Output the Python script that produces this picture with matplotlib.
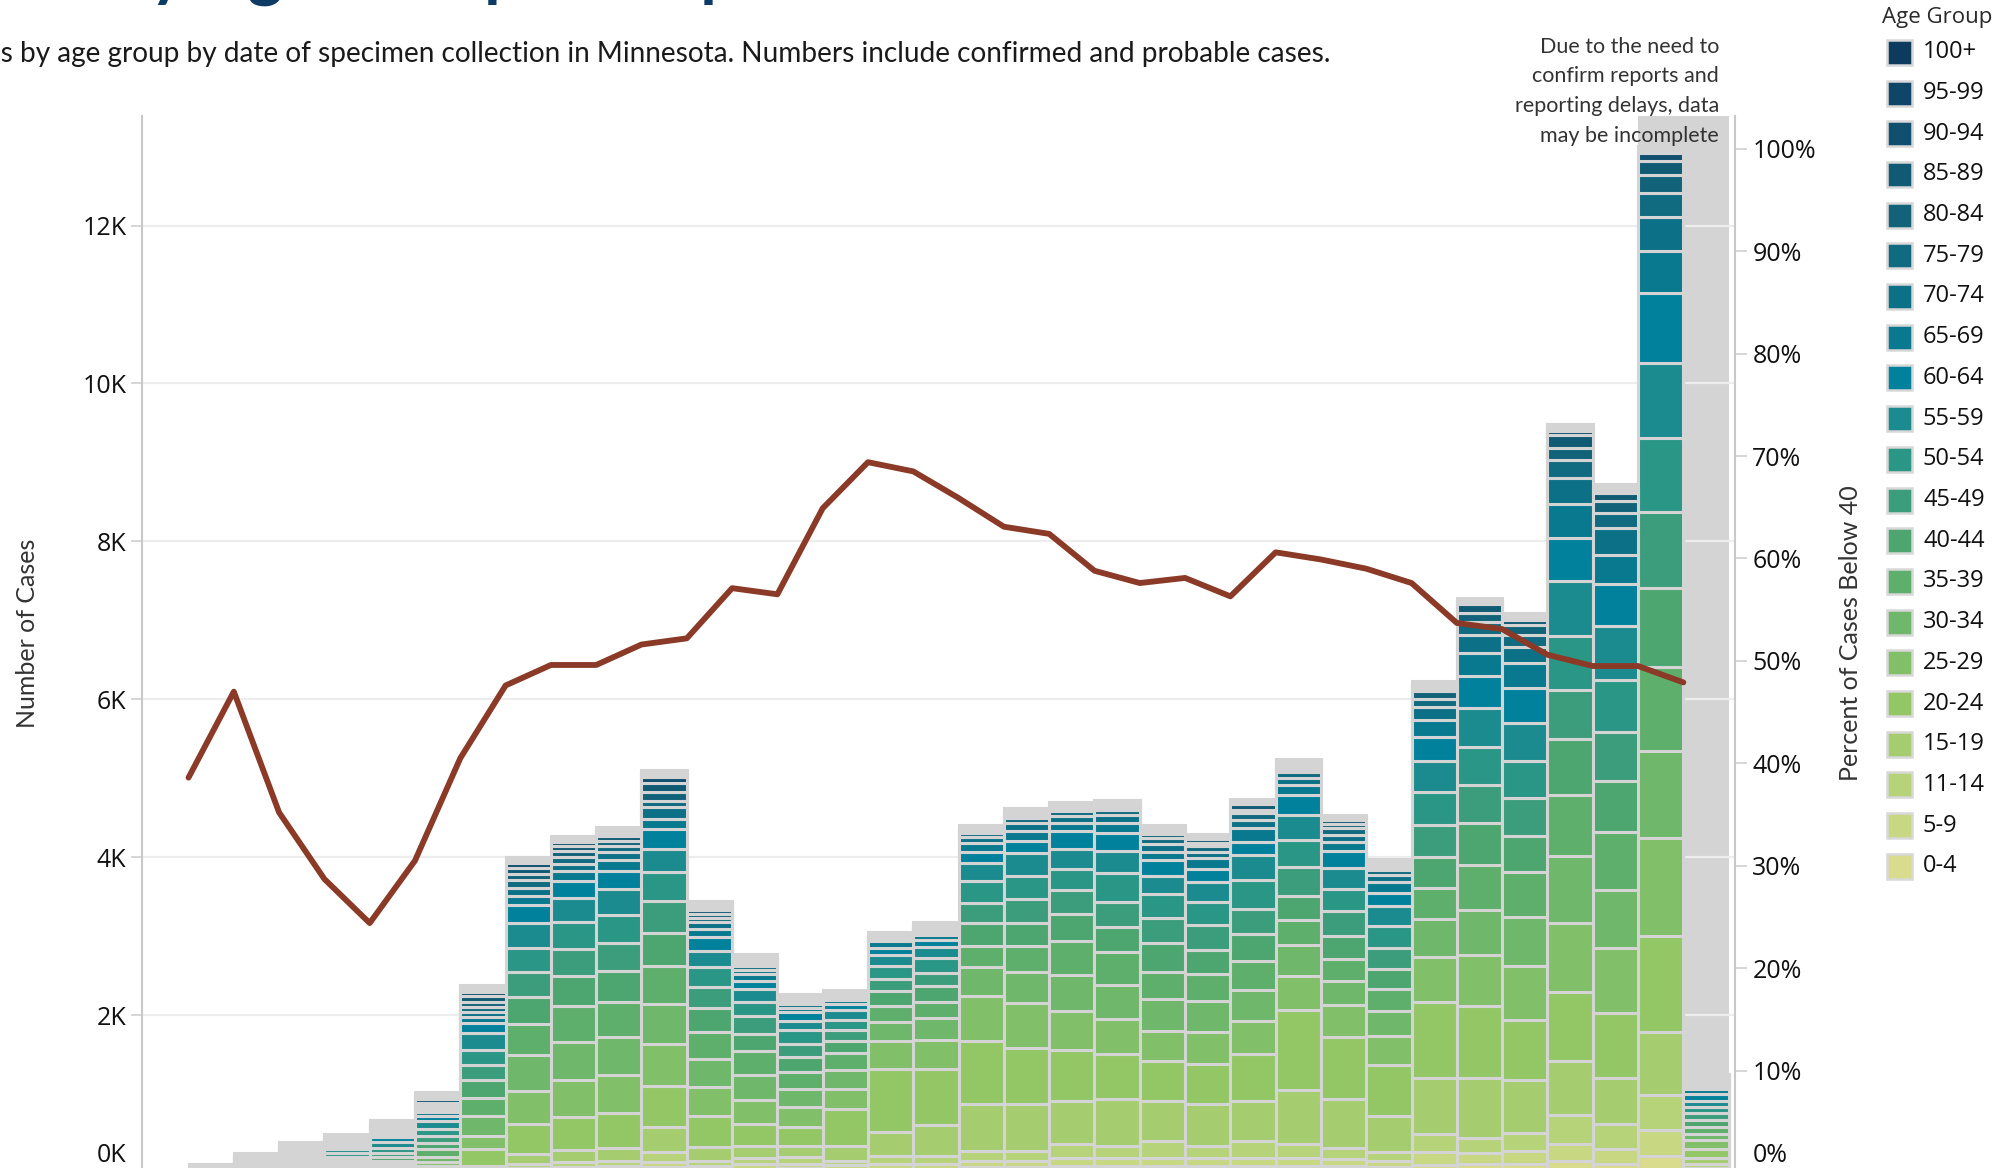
import numpy as np
import matplotlib
matplotlib.use('Agg')
import matplotlib.pyplot as plt
from matplotlib.patches import Rectangle

# weekly cases by age group (34 weeks)
age_0_4 = [0, 1, 2, 2, 3, 5, 10, 30, 35, 40, 70, 40, 50, 60, 55, 50, 50, 70, 70, 90, 90, 90, 90, 90, 90, 90, 80, 100, 110, 110, 150, 120, 220, 30]
age_5_9 = [0, 2, 2, 2, 3, 5, 12, 34, 40, 45, 75, 45, 60, 55, 45, 60, 63, 76, 76, 101, 101, 105, 105, 105, 105, 89, 68, 171, 141, 166, 218, 180, 320, 35]
age_11_14 = [1, 3, 3, 3, 4, 8, 20, 51, 60, 65, 120, 70, 80, 85, 50, 100, 105, 127, 127, 177, 148, 207, 144, 207, 177, 135, 122, 222, 196, 226, 363, 315, 452, 55]
age_15_19 = [2, 8, 8, 8, 10, 20, 45, 131, 150, 170, 320, 170, 150, 140, 190, 305, 395, 600, 600, 540, 600, 511, 536, 511, 676, 629, 452, 704, 759, 674, 682, 588, 789, 75]
age_20_24 = [6, 22, 25, 25, 30, 50, 211, 372, 420, 440, 515, 400, 275, 245, 475, 800, 710, 794, 709, 650, 562, 502, 507, 591, 1013, 785, 646, 964, 913, 768, 879, 823, 1216, 115]
age_25_29 = [5, 20, 27, 28, 32, 55, 169, 422, 470, 480, 532, 370, 305, 245, 255, 360, 365, 570, 566, 498, 452, 388, 401, 422, 431, 397, 372, 572, 644, 682, 874, 820, 1241, 105]
age_30_34 = [5, 20, 27, 30, 35, 60, 253, 452, 485, 480, 507, 350, 315, 230, 230, 235, 280, 367, 393, 456, 422, 401, 393, 393, 393, 308, 312, 478, 571, 614, 849, 733, 1102, 85]
age_35_39 = [4, 18, 27, 30, 35, 100, 224, 401, 450, 445, 485, 340, 305, 220, 215, 200, 200, 274, 338, 431, 422, 338, 342, 372, 317, 283, 279, 397, 567, 567, 768, 746, 1073, 85]
age_40_44 = [5, 18, 30, 35, 50, 80, 228, 338, 380, 390, 418, 300, 225, 190, 160, 195, 200, 287, 283, 338, 317, 372, 312, 342, 308, 287, 258, 397, 533, 456, 710, 640, 992, 85]
age_45_49 = [6, 18, 30, 40, 55, 85, 194, 312, 350, 360, 401, 270, 225, 170, 140, 150, 165, 249, 312, 308, 317, 312, 308, 308, 367, 317, 258, 397, 478, 482, 625, 627, 963, 85]
age_50_54 = [7, 18, 35, 45, 65, 95, 198, 312, 340, 350, 371, 250, 170, 170, 125, 170, 195, 287, 283, 262, 367, 312, 291, 367, 342, 279, 283, 427, 482, 478, 680, 652, 937, 80]
age_55_59 = [7, 17, 35, 50, 70, 90, 203, 312, 300, 330, 284, 210, 165, 120, 120, 140, 140, 228, 291, 253, 279, 220, 253, 317, 312, 258, 253, 392, 490, 478, 705, 679, 956, 80]
age_60_64 = [5, 14, 30, 50, 60, 75, 135, 224, 220, 230, 253, 180, 110, 105, 80, 90, 85, 135, 160, 224, 224, 203, 169, 169, 253, 220, 169, 307, 414, 448, 540, 537, 880, 85]
age_65_69 = [4, 10, 25, 35, 45, 45, 70, 114, 120, 135, 139, 100, 80, 60, 45, 80, 60, 110, 130, 100, 130, 105, 140, 170, 130, 120, 135, 210, 290, 316, 425, 366, 532, 60]
age_70_74 = [2, 6, 15, 25, 35, 40, 70, 110, 100, 110, 143, 80, 60, 45, 30, 35, 45, 80, 95, 100, 100, 100, 75, 105, 90, 90, 85, 160, 230, 196, 335, 341, 430, 45]
age_75_79 = [1, 3, 8, 15, 25, 30, 60, 93, 80, 75, 80, 55, 45, 30, 20, 15, 30, 50, 60, 60, 70, 75, 70, 85, 70, 80, 65, 110, 160, 150, 230, 196, 313, 35]
age_80_84 = [0, 1, 5, 12, 25, 45, 65, 84, 75, 60, 114, 55, 40, 20, 15, 8, 18, 30, 40, 35, 40, 50, 45, 45, 45, 50, 45, 95, 110, 127, 150, 143, 228, 25]
age_85_89 = [0, 1, 3, 8, 20, 45, 70, 76, 70, 60, 114, 50, 35, 15, 10, 5, 12, 15, 22, 15, 20, 45, 45, 70, 40, 50, 25, 45, 120, 70, 160, 109, 168, 18]
age_90_94 = [0, 0, 2, 5, 12, 25, 60, 59, 50, 40, 76, 40, 20, 8, 6, 2, 6, 8, 10, 6, 10, 15, 15, 15, 20, 12, 12, 25, 15, 25, 60, 40, 108, 10]
age_95_99 = [0, 0, 1, 2, 5, 10, 30, 20, 20, 20, 30, 20, 8, 3, 2, 1, 2, 3, 4, 2, 4, 6, 5, 5, 8, 4, 5, 10, 5, 8, 25, 15, 35, 4]
age_100 = [0, 0, 0, 0, 1, 2, 8, 5, 5, 5, 8, 5, 2, 1, 1, 0, 0, 0, 1, 0, 1, 2, 1, 1, 2, 1, 1, 3, 1, 2, 8, 4, 8, 1]

# percent of cases below 40, per week
pct_below_40 = [38.6, 47.0, 35.2, 28.7, 24.4, 30.5, 40.5, 47.6, 49.6, 49.6, 51.6, 52.2, 57.1, 56.5,
                64.9, 69.4, 68.5, 65.9, 63.1, 62.4, 58.8, 57.6, 58.1, 56.3, 60.6, 59.9, 59.0, 57.6,
                53.7, 53.1, 50.6, 49.5, 49.5, 47.9]

age_labels = ['0-4', '5-9', '11-14', '15-19', '20-24', '25-29', '30-34', '35-39', '40-44', '45-49',
              '50-54', '55-59', '60-64', '65-69', '70-74', '75-79', '80-84', '85-89', '90-94',
              '95-99', '100+']
age_colors = ['#d9dc8c', '#c8d882', '#b7d379', '#a5cd6f', '#93c766', '#81bf68', '#6fb76a', '#5daf6b',
              '#4da570', '#3b9d7b', '#2a9685', '#1b8b8f', '#02819c', '#08798f', '#0c7186', '#106b80',
              '#12637a', '#115a74', '#10506e', '#0f4667', '#0d3b5e']

series = [age_0_4, age_5_9, age_11_14, age_15_19, age_20_24, age_25_29, age_30_34, age_35_39,
          age_40_44, age_45_49, age_50_54, age_55_59, age_60_64, age_65_69, age_70_74, age_75_79,
          age_80_84, age_85_89, age_90_94, age_95_99, age_100]
data = np.array(series, dtype=float)
weeks = np.arange(data.shape[1])
totals = data.sum(axis=0)

W, H = 1997, 1168
GRAY = '#d4d4d4'
SANS = ['Open Sans', 'DejaVu Sans']
LIGHT = ['Lato', 'DejaVu Sans']


def fx(px):
    return px / W


def fy(py):
    return 1 - py / H


fig = plt.figure(figsize=(W / 100, H / 100), dpi=100)
ax = fig.add_axes([fx(142.4), -5 / H, (1735 - 142.4) / W, (1173 - 116) / H])

# shaded incomplete weeks
ax.axvspan(32, 34, color=GRAY, lw=0, zorder=0.5)
for v in range(2000, 13000, 2000):
    ax.axhline(v, color='#ededed', lw=1.6, zorder=1)

ax.bar(weeks, totals + 50, width=1, align='edge', color=GRAY, edgecolor=GRAY, linewidth=2.2, zorder=1.8)
bottom = np.zeros(len(weeks))
for vals, c in zip(data, age_colors):
    ax.bar(weeks, vals, bottom=bottom, width=1, align='edge', color=c, edgecolor=GRAY,
           linewidth=2.2, zorder=2)
    bottom += vals

ax.set_xlim(-1.018, 34.14)
ax.set_ylim(0, 13388)
ax.set_xticks([])
yt = list(range(0, 13000, 2000))
ax.set_yticks(yt)
ax.set_yticklabels([''] + ['%dK' % (v // 1000) for v in yt[1:]], family=SANS, fontsize=18, color='#111111')
ax.tick_params(axis='y', length=8, width=1.2, color='#d0d0d0', pad=3.5)
for s in ['top', 'right', 'bottom']:
    ax.spines[s].set_visible(False)
ax.spines['left'].set_color('#c8c8c8')
ax.spines['left'].set_linewidth(1.5)
ax.patch.set_alpha(0)

ax2 = ax.twinx()
ax2.plot(weeks, pct_below_40, color='#8b3a28', lw=4.2, solid_capstyle='round', zorder=5)
ax2.set_ylim(0, 103.2)
pt = list(range(0, 101, 10))
ax2.set_yticks(pt)
ax2.set_yticklabels([''] + ['%d%%' % v for v in pt[1:]], family=SANS, fontsize=18, color='#111111')
ax2.tick_params(axis='y', length=8.5, width=1.2, color='#d0d0d0', pad=4)
for s in ['top', 'left', 'bottom']:
    ax2.spines[s].set_visible(False)
ax2.spines['right'].set_color('#c8c8c8')
ax2.spines['right'].set_linewidth(1.5)

# zero labels sit just above the cropped bottom edge
fig.text(fx(126), fy(1155), '0K', ha='right', va='center', family=SANS, fontsize=18, color='#111111')
fig.text(fx(1753), fy(1156), '0%', ha='left', va='center', family=SANS, fontsize=18, color='#111111')

# axis titles
fig.text(fx(28), fy(633), 'Number of Cases', rotation=90, ha='center', va='center',
         family=LIGHT, fontsize=18, color='#333333')
fig.text(fx(1850), fy(633), 'Percent of Cases Below 40', rotation=90, ha='center', va='center',
         family=LIGHT, fontsize=18, color='#333333')

renderer = fig.canvas.get_renderer()

# title, mostly cut off at the top edge
title = 'Cases by Age Group and Specimen Date'
probe = fig.text(0, 0, 'Cases b', family=['Lato', 'DejaVu Sans'], fontweight='bold', fontsize=48)
pre_w = probe.get_window_extent(renderer).width
probe.remove()
fig.text(fx(150 - pre_w), fy(-7), title, ha='left', va='baseline', family=['Lato', 'DejaVu Sans'],
         fontweight='bold', fontsize=48, color='#0e3a66')

# subtitle, left part cut off
sub = 'Cases by age group by date of specimen collection in Minnesota. Numbers include confirmed and probable cases.'
probe = fig.text(0, 0, sub[4:], family=LIGHT, fontsize=19)
sw = probe.get_window_extent(renderer).width
probe.remove()
sub_size = 19 * 1330 / sw
fig.text(fx(1330), fy(62), sub, ha='right', va='baseline', family=LIGHT, fontsize=sub_size, color='#1a1a1a')

# note about incomplete data
note = ['Due to the need to', 'confirm reports and', 'reporting delays, data', 'may be incomplete']
for i, line in enumerate(note):
    fig.text(fx(1719), fy(53 + i * 29.5), line, ha='right', va='baseline', family=LIGHT,
             fontsize=15.5, color='#333333')

# legend
fig.text(fx(1882), fy(18), 'Age Group', ha='left', va='center', family=SANS, fontsize=16,
         color='#2a2a2a')
for i, (lab, c) in enumerate(zip(age_labels[::-1], age_colors[::-1])):
    yc = 52.3 + i * 40.7
    fig.add_artist(Rectangle((fx(1887), fy(yc + 12.5)), 25 / W, 25 / H, transform=fig.transFigure,
                             facecolor=c, edgecolor='#d8d8d8', linewidth=1.8))
    fig.text(fx(1923), fy(yc), lab, ha='left', va='center', family=SANS, fontsize=17, color='#111111')

fig.savefig('out.png', dpi=100)
